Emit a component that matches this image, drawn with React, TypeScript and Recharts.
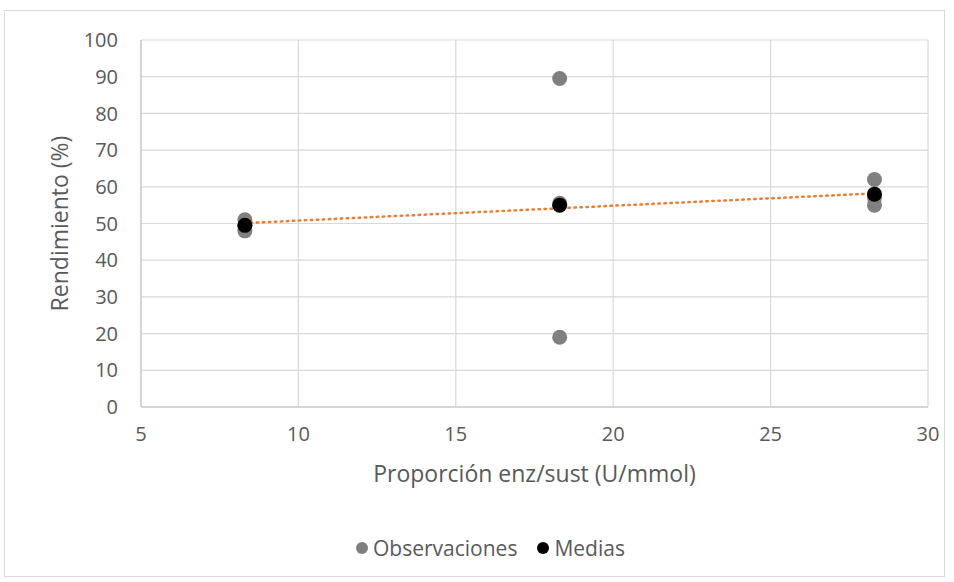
import React from 'react';
import { ScatterChart, Scatter, XAxis, YAxis, CartesianGrid, Legend } from 'recharts';

const obsX = [8.3, 8.3, 8.3, 18.3, 18.3, 18.3, 28.3, 28.3, 28.3];
const obsY = [48, 49.5, 51, 89.5, 19, 55.5, 62, 57, 55];
const meanX = [8.3, 18.3, 28.3];
const meanY = [49.5, 55, 58];
const trendX = [8.3, 28.3];
const trendY = [50.1, 58.2];
const xTicks = [5, 10, 15, 20, 25, 30];
const yTicks = [0, 10, 20, 30, 40, 50, 60, 70, 80, 90, 100];

const observaciones = obsX.map((x, i) => ({ x, y: obsY[i] }));
const medias = meanX.map((x, i) => ({ x, y: meanY[i] }));
const tendencia = trendX.map((x, i) => ({ x, y: trendY[i] }));

const FONT = '"Open Sans", sans-serif';
const TXT = '#595959';

const dot = (fill: string) => (p: any) => <circle cx={p.cx} cy={p.cy} r={7.5} fill={fill} />;

const LegendContent = () => (
  <div style={{ display: 'flex', alignItems: 'center', fontFamily: FONT, fontSize: 21, color: TXT, paddingLeft: 356, lineHeight: '26px' }}>
    <span style={{ display: 'inline-block', width: 12, height: 12, borderRadius: 6, background: '#7f7f7f', marginRight: 5 }} />
    <span style={{ marginRight: 20 }}>Observaciones</span>
    <span style={{ display: 'inline-block', width: 12, height: 12, borderRadius: 6, background: '#000000', marginRight: 5 }} />
    <span>Medias</span>
  </div>
);

export default function App() {
  return (
    <div style={{ position: 'fixed', left: 0, top: 0, width: 954, height: 582, background: '#fff' }}>
      <div style={{ position: 'absolute', left: 4, top: 10, width: 941, height: 567, border: '1px solid #d9d9d9', boxSizing: 'border-box' }} />
      <ScatterChart width={954} height={582} margin={{ top: 40, right: 26, left: 0, bottom: 145 }}>
        <CartesianGrid stroke="#d9d9d9" strokeWidth={1.2} />
        <XAxis
          type="number"
          dataKey="x"
          domain={[5, 30]}
          ticks={xTicks}
          height={30}
          tickSize={0}
          tickMargin={20}
          tickLine={false}
          axisLine={{ stroke: '#bfbfbf' }}
          tick={{ fill: TXT, fontSize: 20, fontFamily: FONT }}
          label={{ value: 'Proporción enz/sust (U/mmol)', position: 'bottom', offset: 29, fill: TXT, fontSize: 23, fontFamily: FONT }}
        />
        <YAxis
          type="number"
          dataKey="y"
          domain={[0, 100]}
          ticks={yTicks}
          width={141}
          tickSize={0}
          tickMargin={23}
          tickLine={false}
          axisLine={{ stroke: '#bfbfbf' }}
          tick={{ fill: TXT, fontSize: 20, fontFamily: FONT }}
          label={{ value: 'Rendimiento (%)', angle: -90, position: 'insideLeft', offset: 60, fill: TXT, fontSize: 23, fontFamily: FONT, style: { textAnchor: 'middle' } }}
        />
        <Legend verticalAlign="middle" layout="horizontal" align="center" wrapperStyle={{ top: 535, left: 0, width: 954 }} content={LegendContent} />
        <Scatter data={tendencia} isAnimationActive={false} line={{ stroke: '#ED7D31', strokeWidth: 2.5, strokeDasharray: '1.5 4.5', strokeLinecap: 'round' }} shape={() => <g />} legendType="none" />
        <Scatter data={observaciones} isAnimationActive={false} shape={dot('#808080')} />
        <Scatter data={medias} isAnimationActive={false} shape={dot('#000000')} />
      </ScatterChart>
    </div>
  );
}
